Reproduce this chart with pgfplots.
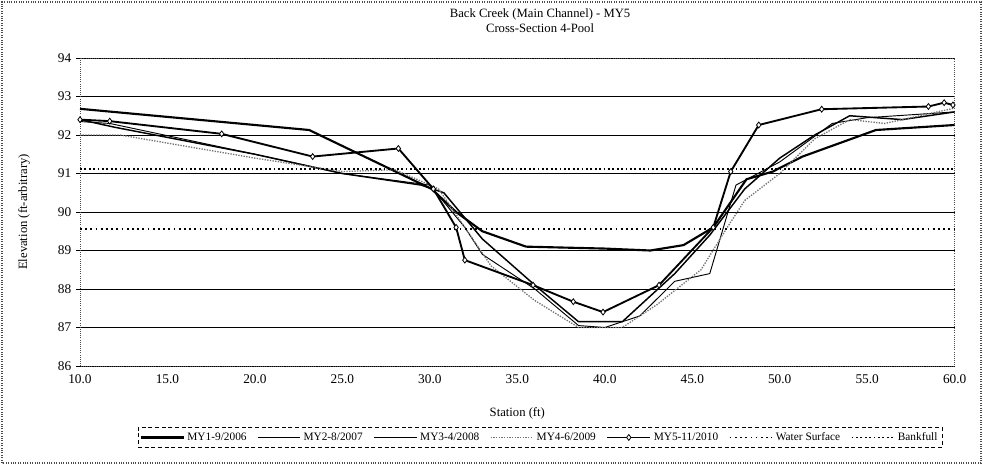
\documentclass[border=0pt]{standalone}
\usepackage{fontspec}
\setmainfont{Liberation Serif}
\usepackage{pgfplots}
\pgfplotsset{compat=1.18}
\begin{document}
\begin{tikzpicture}[x=1pt,y=1pt]
\path[use as bounding box] (-60,-74.25) rectangle (677.25,274.5);
\draw[black!70, densely dotted, line width=0.8pt] (-58.5,-72.75) rectangle (675.75,273);
\begin{axis}[
  at={(0,0)}, anchor=south west,
  scale only axis, width=656pt, height=231pt,
  xmin=10, xmax=60, ymin=86, ymax=94,
  xtick={10,15,...,60}, ytick={86,...,94},
  xticklabel style={/pgf/number format/.cd, fixed, fixed zerofill, precision=1},
  /pgf/number format/assume math mode=true,
  tick label style={font=\fontsize{10}{11}\selectfont},
  ymajorgrids, major grid style={black, line width=0.6pt},
  axis line style={black!70, densely dotted, line width=0.6pt},
  tick style={black, line width=0.5pt},
  xtick style={draw=none},
  ytick pos=left, tick align=outside, major tick length=3pt,
  xlabel={Station (ft)}, ylabel={Elevation (ft-arbitrary)},
  label style={font=\fontsize{9.5}{10}\selectfont},
  xlabel style={at={(axis description cs:0.5,-0.12)}, anchor=north},
  ylabel style={at={(axis description cs:-0.052,0.5)}, anchor=south},
  title style={font=\fontsize{9.5}{11.5}\selectfont, align=center, at={(axis description cs:0.526,1.04)}, anchor=south},
  title={Back Creek (Main Channel) - MY5\\Cross-Section 4-Pool},
  legend style={at={(axis description cs:0.526,-0.232)}, anchor=center,
    legend columns=7, font=\fontsize{8.5}{9}\selectfont,
    draw=black, densely dashed, line width=0.5pt, inner sep=1.5pt,
    /tikz/every even column/.append style={column sep=6pt}},
  legend image code/.code={\draw[mark repeat=2,mark phase=2,#1] plot coordinates {(0pt,0pt) (16pt,0pt) (32pt,0pt)};},
  legend cell align=left,
  clip=false
]
% MY1-9/2006
\addplot[black, line width=1.6pt, solid] coordinates {
(10,92.68) (23.1,92.13) (30.1,90.6) (31.5,90.0) (33,89.5) (35.5,89.1) (40,89.05) (42.6,89.0) (44.5,89.14) (46.2,89.6) (48.1,90.85) (49.6,91.05) (51.3,91.44) (55.5,92.13) (60,92.26)};
\addlegendentry{MY1-9/2006}
% MY2-8/2007
\addplot[black, line width=0.7pt, solid] coordinates {
(10,92.35) (11.7,92.3) (20,91.5) (25,91.0) (30,90.7) (32,89.6) (33,88.9) (36,88.0) (38.5,87.05) (40,87.0) (42,87.3) (44,88.2) (46,88.4) (47.5,90.7) (50,91.3) (53,92.3) (55,92.45) (60,92.6)};
\addlegendentry{MY2-8/2007}
% MY3-4/2008
\addplot[black, line width=1.1pt, solid] coordinates {
(10,92.4) (12,92.2) (20,91.5) (25,91.0) (29.5,90.7) (30.8,90.5) (33,89.3) (36,88.1) (38.5,87.15) (41,87.15) (44,88.4) (46,89.4) (48,90.6) (50,91.4) (52,92.0) (54,92.5) (57,92.4) (60,92.6)};
\addlegendentry{MY3-4/2008}
% MY4-6/2009
\addplot[black!55, line width=1.0pt, densely dotted] coordinates {
(10,92.0) (12.3,92.0) (20,91.4) (25,91.05) (28,91.1) (30.5,90.6) (32,89.6) (33.5,88.6) (36,87.7) (38.5,87.0) (41,87.0) (43,87.6) (45.5,88.5) (47,89.6) (48,90.3) (50,91.0) (52,91.9) (54,92.4) (56,92.3) (60,92.7)};
\addlegendentry{MY4-6/2009}
% MY5-11/2010
\addplot[black, line width=1.4pt, solid, mark=diamond*, mark size=2.2pt, mark options={fill=white, line width=0.6pt}] coordinates {
(10,92.4) (11.7,92.36) (18.1,92.03) (23.3,91.44) (28.2,91.65) (30.2,90.6) (31.5,89.6) (32,88.75) (35.9,88.1) (38.2,87.67) (39.9,87.4) (43.1,88.1) (46.2,89.6) (47.2,91.05) (48.8,92.26) (52.4,92.67) (58.5,92.74) (59.4,92.84) (59.9,92.78)};
\addlegendentry{MY5-11/2010}
% Water Surface
\addplot[black, line width=1.3pt, dash pattern=on 1.3pt off 2.6pt] coordinates {(10,89.55) (60,89.55)};
\addlegendentry{Water Surface}
% Bankfull
\addplot[black, line width=1.3pt, dash pattern=on 1.3pt off 2.0pt] coordinates {(10,91.12) (60,91.12)};
\addlegendentry{Bankfull}
\end{axis}
\end{tikzpicture}
\end{document}
